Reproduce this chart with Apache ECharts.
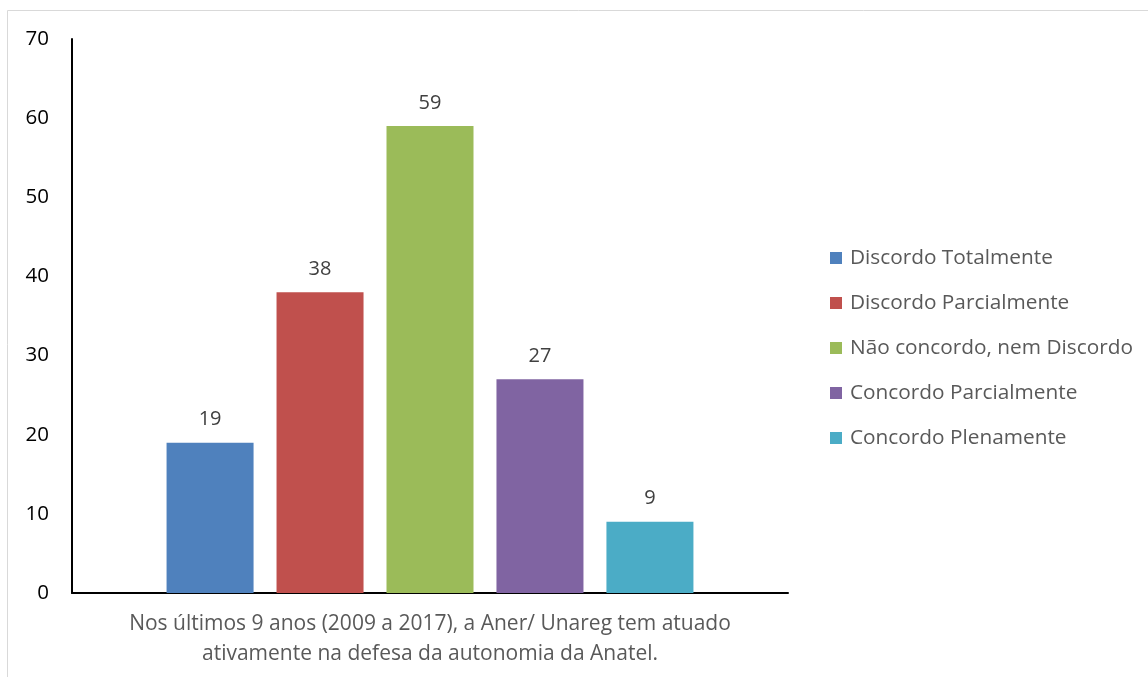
<!DOCTYPE html>
<html>
<head>
<meta charset="utf-8">
<script src="https://cdn.jsdelivr.net/npm/echarts@6/dist/echarts.min.js"></script>
<style>html,body{margin:0;padding:0;background:#fff}#c{width:1148px;height:677px}</style>
</head>
<body>
<div id="c"></div>
<script>
const categories = ['Nos últimos 9 anos (2009 a 2017), a Aner/ Unareg tem atuado\nativamente na defesa da autonomia da Anatel.'];
const seriesNames = ['Discordo Totalmente', 'Discordo Parcialmente', 'Não concordo, nem Discordo', 'Concordo Parcialmente', 'Concordo Plenamente'];
const seriesValues = [19, 38, 59, 27, 9];
const colors = ['#4f81bd', '#c0504d', '#9bbb59', '#8064a2', '#4bacc6'];
const yTicks = { min: 0, max: 70, interval: 10 };

const FONT = 'Open Sans';
const chart = echarts.init(document.getElementById('c'), null, { renderer: 'canvas' });
const series = seriesNames.map((n, i) => ({
  name: n,
  type: 'bar',
  data: [seriesValues[i]],
  barWidth: 87,
  barGap: '26.4%',
  itemStyle: { color: colors[i] },
  label: { show: true, position: 'top', distance: 13, color: '#404040', fontSize: 20, fontFamily: FONT }
}));
chart.setOption({
  animation: false,
  textStyle: { fontFamily: FONT },
  color: colors,
  graphic: [{
    type: 'rect', shape: { x: 7.5, y: 10.5, width: 1200, height: 700 },
    style: { fill: 'none', stroke: '#d9d9d9', lineWidth: 1 }, silent: true
  }],
  grid: { left: 72, top: 39, right: 360, bottom: 84, containLabel: false },
  legend: {
    orient: 'vertical', left: 825, top: 242,
    itemWidth: 12, itemHeight: 12, itemGap: 23,
    icon: 'rect',
    textStyle: { color: '#595959', fontSize: 20.8, fontFamily: FONT, lineHeight: 22, padding: [0, 0, 0, 3] },
    data: seriesNames
  },
  xAxis: {
    type: 'category', data: [''],
    name: categories[0], nameLocation: 'middle', nameGap: 16,
    nameTextStyle: { color: '#595959', fontSize: 21, fontFamily: FONT, lineHeight: 30, verticalAlign: 'top' },
    axisLine: { lineStyle: { color: '#000', width: 2 } },
    axisTick: { show: false }, axisLabel: { show: false }
  },
  yAxis: {
    type: 'value', min: yTicks.min, max: yTicks.max, interval: yTicks.interval,
    axisLine: { show: true, lineStyle: { color: '#000', width: 2 } },
    axisTick: { show: false },
    splitLine: { show: false },
    axisLabel: { color: '#000', fontSize: 20.5, fontFamily: FONT, margin: 23 }
  },
  series
});
</script>
</body>
</html>
